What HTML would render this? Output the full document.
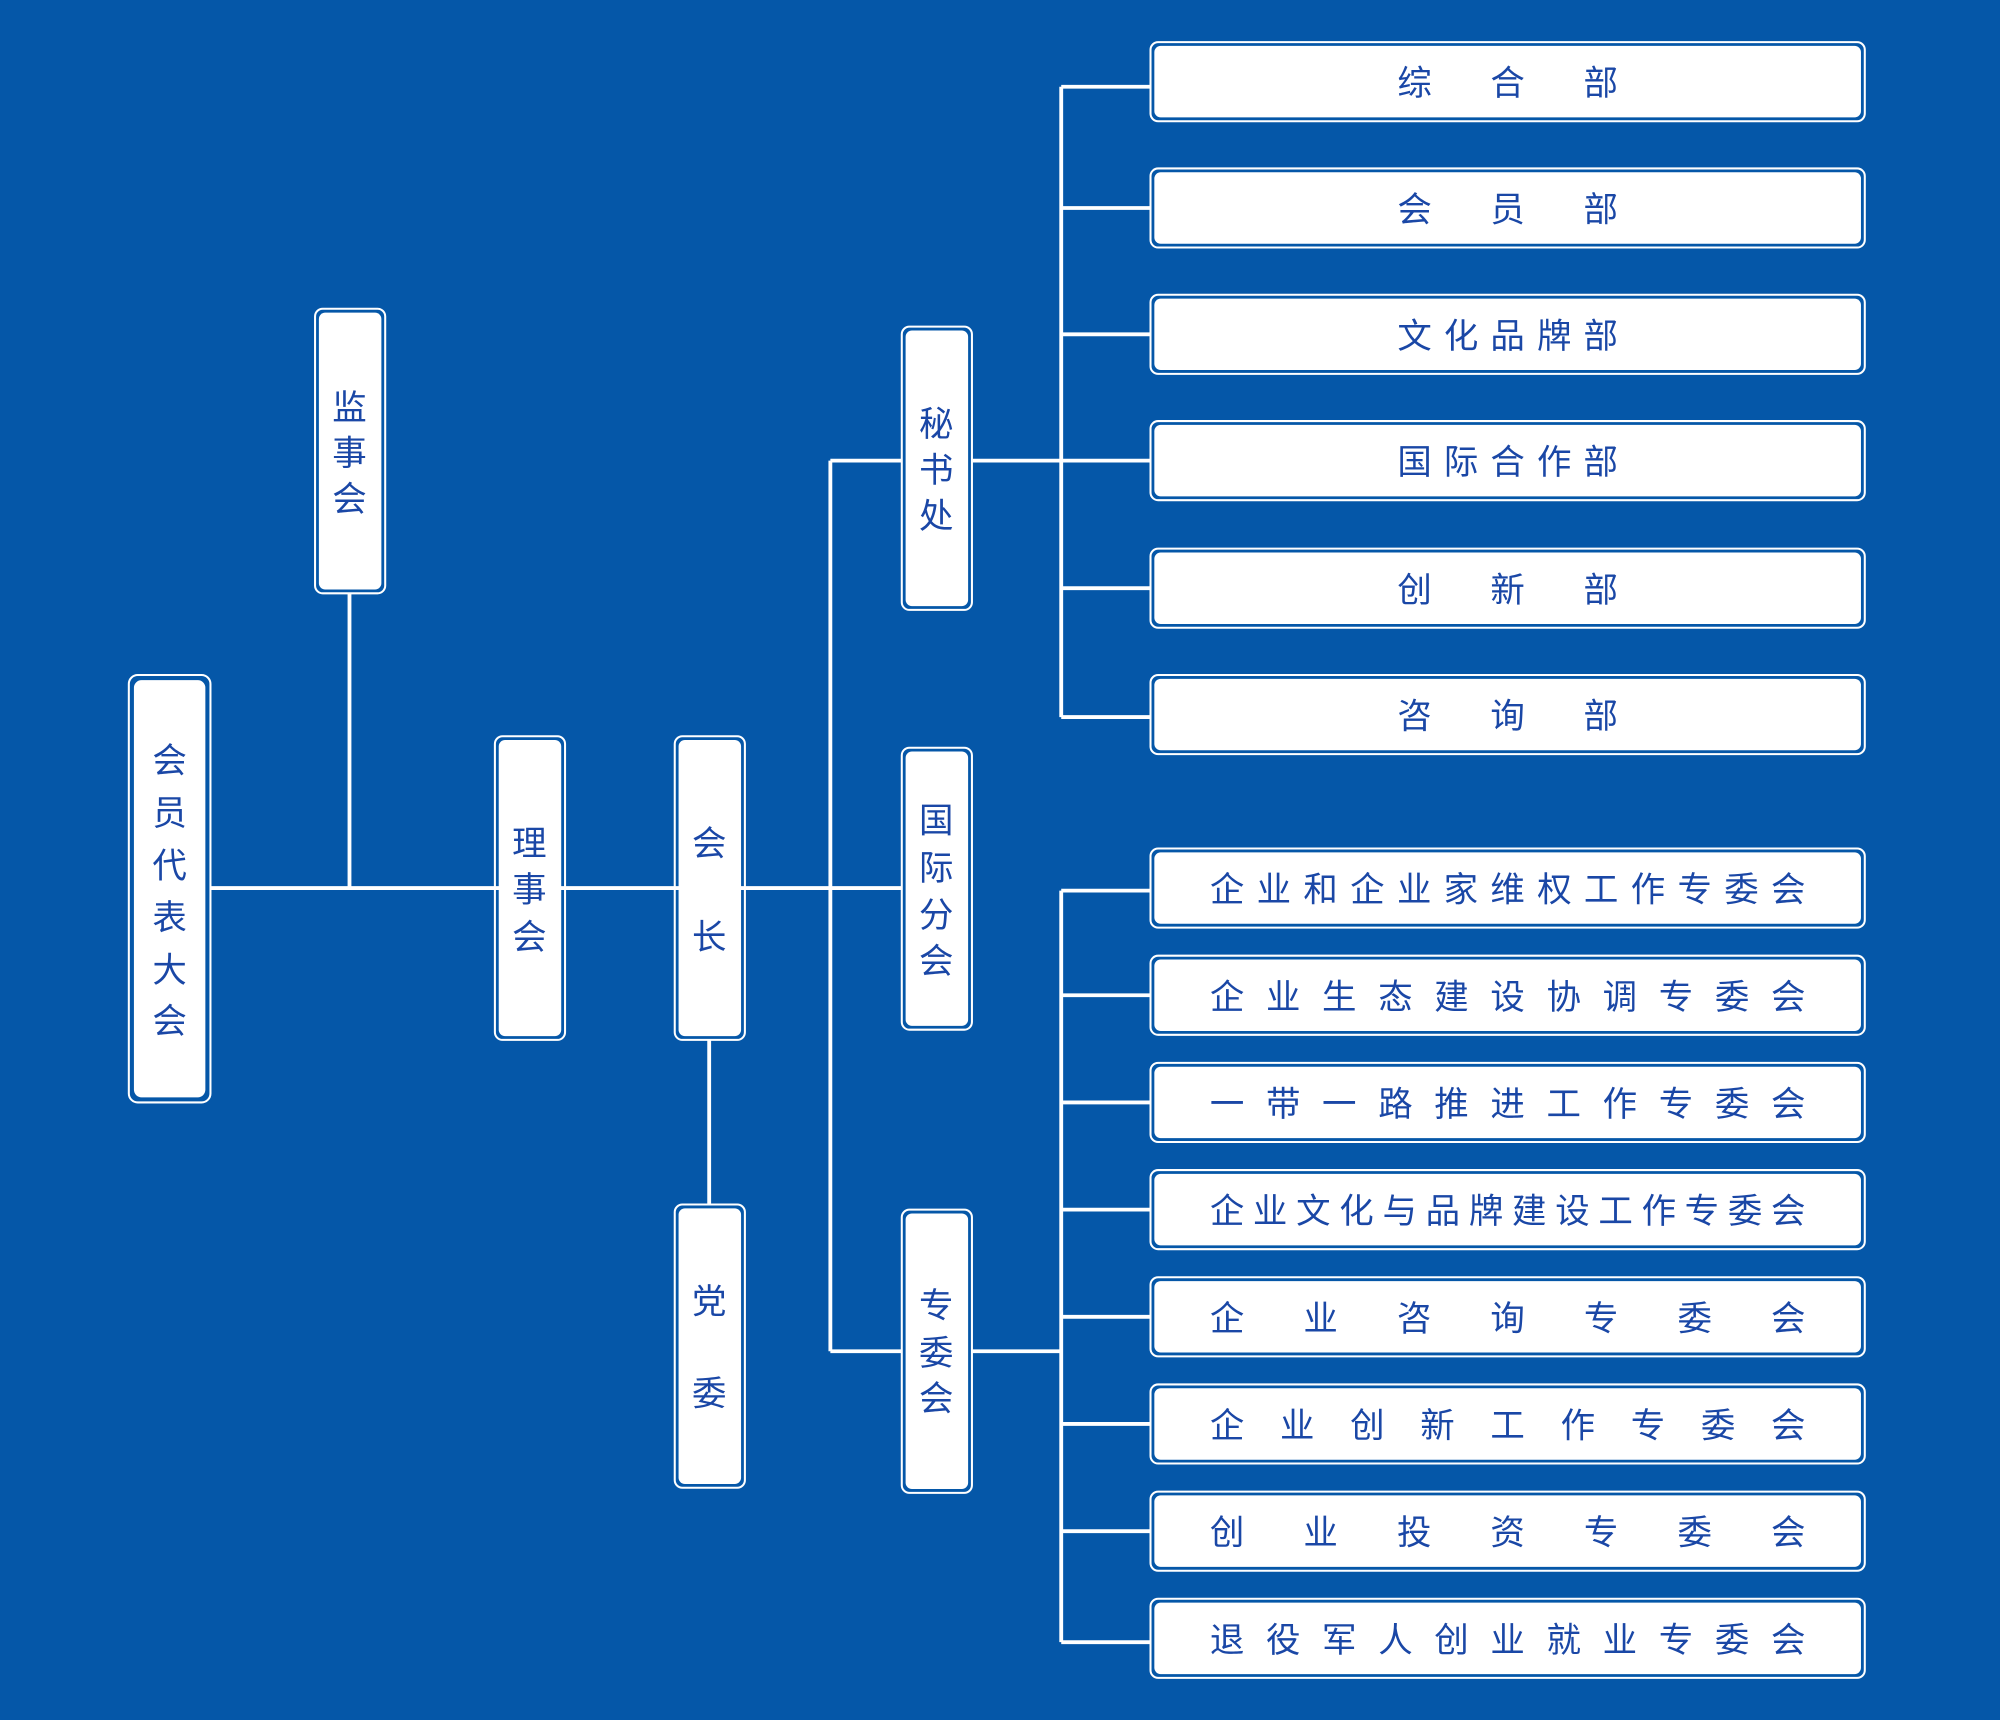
<!DOCTYPE html>
<html><head><meta charset="utf-8"><style>
html,body{margin:0;padding:0;background:#0557a8;}
svg{display:block}
text{font-family:"Liberation Sans","Noto Sans CJK SC",sans-serif;font-size:27px;fill:#1a47a6;text-anchor:middle;dominant-baseline:central;}
.o{fill:none;stroke:#fff;stroke-width:1.6}
.i{fill:#fff}
.l{stroke:#fff;stroke-width:3;fill:none}
</style></head><body>
<svg width="2000" height="1720" viewBox="0 0 1568 1348" preserveAspectRatio="none" xmlns="http://www.w3.org/2000/svg">
<rect width="1568" height="1348" fill="#0557a8"/>
<defs>
<g id="h"><rect class="o" x="0" y="0" width="560" height="62" rx="6"/><rect class="i" x="3" y="3" width="554" height="56" rx="5"/></g>
</defs>
<path class="l" d="M165 696H707 M274 465V696 M556 815V944 M651 361V1059 M651 361H707 M651 1059H707 M762 361H902 M832 68V562 M832 68H902 M832 163H902 M832 262H902 M832 461H902 M832 562H902 M762 1059H832 M832 698V1287 M832 698H902 M832 780H902 M832 864H902 M832 948H902 M832 1032H902 M832 1116H902 M832 1200H902 M832 1287H902"/>
<g>
<rect class="o" x="101" y="529" width="64" height="335" rx="7"/><rect class="i" x="105" y="533" width="56" height="327" rx="6"/>
<rect class="o" x="247" y="242" width="55" height="223" rx="6"/><rect class="i" x="250" y="245" width="49" height="217" rx="5"/>
<rect class="o" x="388" y="577" width="55" height="238" rx="6"/><rect class="i" x="391" y="580" width="49" height="232" rx="5"/>
<rect class="o" x="529" y="577" width="55" height="238" rx="6"/><rect class="i" x="532" y="580" width="49" height="232" rx="5"/>
<rect class="o" x="529" y="944" width="55" height="222" rx="6"/><rect class="i" x="532" y="947" width="49" height="216" rx="5"/>
<rect class="o" x="707" y="256" width="55" height="222" rx="6"/><rect class="i" x="710" y="259" width="49" height="216" rx="5"/>
<rect class="o" x="707" y="586" width="55" height="221" rx="6"/><rect class="i" x="710" y="589" width="49" height="215" rx="5"/>
<rect class="o" x="707" y="948" width="55" height="222" rx="6"/><rect class="i" x="710" y="951" width="49" height="216" rx="5"/>
</g>
<text x="133 133 133 133 133 133" y="597 638 679 720 761 801">会员代表大会</text>
<text x="274 274 274" y="320 356 392">监事会</text>
<text x="415 415 415" y="662 698 735">理事会</text>
<text x="556 556" y="662 735">会长</text>
<text x="556 556" y="1021 1093">党委</text>
<text x="734 734 734" y="333 369 405">秘书处</text>
<text x="734 734 734 734" y="644 681 718 754">国际分会</text>
<text x="734 734 734" y="1024 1061 1097">专委会</text>
<use href="#h" x="902" y="33"/><use href="#h" x="902" y="132"/><use href="#h" x="902" y="231"/>
<use href="#h" x="902" y="330"/><use href="#h" x="902" y="430"/><use href="#h" x="902" y="529"/>
<use href="#h" x="902" y="665"/><use href="#h" x="902" y="749"/><use href="#h" x="902" y="833"/>
<use href="#h" x="902" y="917"/><use href="#h" x="902" y="1001"/><use href="#h" x="902" y="1085"/>
<use href="#h" x="902" y="1169"/><use href="#h" x="902" y="1253"/>
<text x="1109 1182 1255" y="66">综合部</text>
<text x="1109 1182 1255" y="165">会员部</text>
<text x="1109 1145.5 1182 1218.5 1255" y="264">文化品牌部</text>
<text x="1109 1145.5 1182 1218.5 1255" y="363">国际合作部</text>
<text x="1109 1182 1255" y="463">创新部</text>
<text x="1109 1182 1255" y="562">咨询部</text>
<text x="962 998.7 1035.3 1072 1108.7 1145.3 1182 1218.7 1255.3 1292 1328.7 1365.3 1402" y="698">企业和企业家维权工作专委会</text>
<text x="962 1006 1050 1094 1138 1182 1226 1270 1314 1358 1402" y="782">企业生态建设协调专委会</text>
<text x="962 1006 1050 1094 1138 1182 1226 1270 1314 1358 1402" y="866">一带一路推进工作专委会</text>
<text x="962 995.8 1029.7 1063.5 1097.4 1131.2 1165.1 1198.9 1232.8 1266.6 1300.5 1334.3 1368.2 1402" y="950">企业文化与品牌建设工作专委会</text>
<text x="962 1035.3 1108.7 1182 1255.3 1328.7 1402" y="1034">企业咨询专委会</text>
<text x="962 1017 1072 1127 1182 1237 1292 1347 1402" y="1118">企业创新工作专委会</text>
<text x="962 1035.3 1108.7 1182 1255.3 1328.7 1402" y="1202">创业投资专委会</text>
<text x="962 1006 1050 1094 1138 1182 1226 1270 1314 1358 1402" y="1286">退役军人创业就业专委会</text>
</svg>
</body></html>
